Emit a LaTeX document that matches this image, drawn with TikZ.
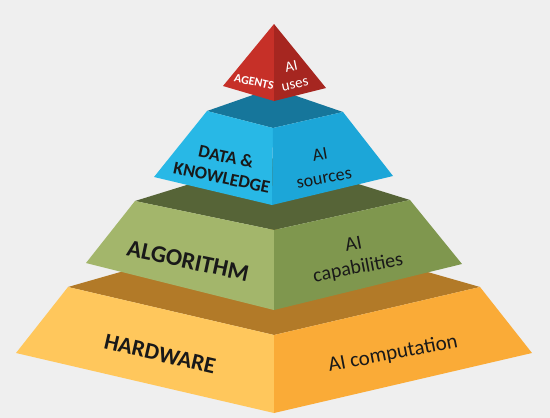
\documentclass[tikz,border=0pt]{standalone}
\usepackage{fontspec}
\setmainfont{Carlito}
\usepackage{tikz}
\definecolor{backgr}{RGB}{239,239,239}
\definecolor{hwtop}{RGB}{178,122,40}
\definecolor{hwleft}{RGB}{255,199,92}
\definecolor{hwright}{RGB}{250,171,55}
\definecolor{algtop}{RGB}{86,100,55}
\definecolor{algleft}{RGB}{163,182,107}
\definecolor{algright}{RGB}{127,151,78}
\definecolor{datatop}{RGB}{22,118,155}
\definecolor{dataleft}{RGB}{40,184,230}
\definecolor{dataright}{RGB}{28,166,216}
\definecolor{agleft}{RGB}{198,48,40}
\definecolor{agright}{RGB}{166,38,32}

\begin{document}
\begin{tikzpicture}[x=1pt,y=1pt,
  leftlbl/.style 2 args={font=\bfseries\fontsize{#1}{#2}\selectfont, rotate=-12, align=center, text=black!90},
  rightlbl/.style 2 args={font=\fontsize{#1}{#2}\selectfont, rotate=11, align=center, text=black!90}]
\tikzstyle{every node}+=[inner sep=0pt]
\useasboundingbox (0,0) rectangle (550,-418);
\fill [backgr] (0,0) rectangle (550,-418);
\fill [hwtop] (68,-287) -- (274,-228) -- (480,-287) -- (274,-335) -- cycle;
\fill [hwleft] (16,-353) -- (68,-287) -- (274,-335) -- (274,-413) -- cycle;
\fill [hwright] (274,-335) -- (480,-287) -- (532,-353) -- (274,-413) -- cycle;
\draw (160,-354) node [leftlbl={23}{23}, rotate=-1] (hardware) {HARDWARE};
\draw (393,-354) node [rightlbl={21}{21}] (computation) {AI computation};
\fill [algtop] (135,-201) -- (274,-158) -- (410,-200) -- (274,-230) -- cycle;
\fill [algleft] (86,-263) -- (135,-201) -- (274,-230) -- (274,-310) -- cycle;
\fill [algright] (274,-230) -- (410,-200) -- (462,-264) -- (274,-310) -- cycle;
\draw (188,-261) node [leftlbl={24}{24}] (algorithm) {ALGORITHM};
\draw (356,-257) node [rightlbl={20}{24}] (capabilities) {AI\\capabilities};
\fill [datatop] (207,-111) -- (273,-88) -- (343,-112) -- (273,-128) -- cycle;
\fill [dataleft] (154,-177) -- (207,-111) -- (273,-128) -- (272,-205) -- cycle;
\fill [dataright] (273,-128) -- (343,-112) -- (393,-176) -- (272,-205) -- cycle;
\draw (224,-167) node [leftlbl={18}{21}] (data) {DATA \&\\KNOWLEDGE};
\draw (322,-166) node [rightlbl={18}{24}, rotate=-1] (sources) {AI\\sources};
\fill [agleft] (274,-24) -- (223,-86) -- (274,-101) -- cycle;
\fill [agright] (274,-24) -- (274,-101) -- (326,-88) -- cycle;
\draw (254,-82) node [leftlbl={12}{12}, text=white] (agents) {AGENTS};
\draw (293,-75) node [rightlbl={15}{18}, text=white, rotate=1] (uses) {AI\\uses};
\end{tikzpicture}
\end{document}
